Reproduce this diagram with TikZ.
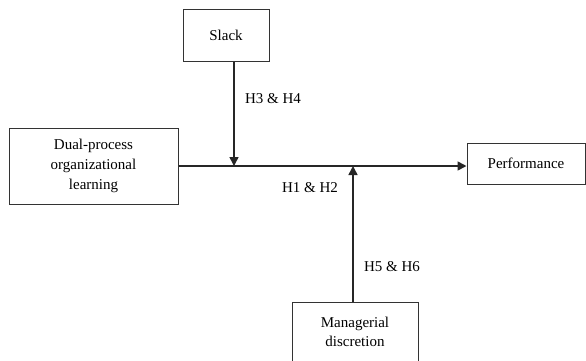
\documentclass[tikz,border=0pt]{standalone}
\usepackage{fontspec}
\setmainfont{Liberation Serif}
\usetikzlibrary{positioning,arrows.meta}

\tikzset{
  varbox/.style={draw=black!80, line width=1pt, align=center, inner sep=0pt,
    font=\fontsize{15}{19}\selectfont},
  hyplabel/.style={inner sep=0pt, font=\fontsize{15}{19}\selectfont},
  effect/.style={draw=black!85, line width=1.6pt,
    -{Triangle[length=9pt,width=9pt]}}
}

\begin{document}
\begin{tikzpicture}[x=1pt,y=-1pt]
		\useasboundingbox (0,0) rectangle (586,360);
		% variables
		\node [varbox, minimum width=86pt, minimum height=52pt] (slack) at (226,35) {Slack};
		\node [varbox, minimum width=169pt, minimum height=76pt, font=\fontsize{15}{20}\selectfont] (dual) at (93.5,166) {Dual-process\\organizational\\learning};
		\node [varbox, minimum width=118pt, minimum height=41pt] (perf) at (526,163.5) {Performance};
		\node [varbox, minimum width=126pt, minimum height=64pt] (mgr) at (355,334) {\\[-12pt]Managerial\\discretion};
		% points where the moderators meet the main path
		\coordinate (slackhit) at (234,166);
		\coordinate (mgrhit) at (353,166);
		% main effect
		\draw [effect] (dual.east |- slackhit) -- (perf.west |- slackhit);
		\node [hyplabel] (h12) at (310,188) {H1 \& H2};
		% moderators
		\draw [effect] (slack.south -| slackhit) -- (slackhit);
		\node [hyplabel] (h34) at (273,99) {H3 \& H4};
		\draw [effect] (mgr.north -| mgrhit) -- (mgrhit);
		\node [hyplabel] (h56) at (392,267) {H5 \& H6};
	\end{tikzpicture}
\end{document}
